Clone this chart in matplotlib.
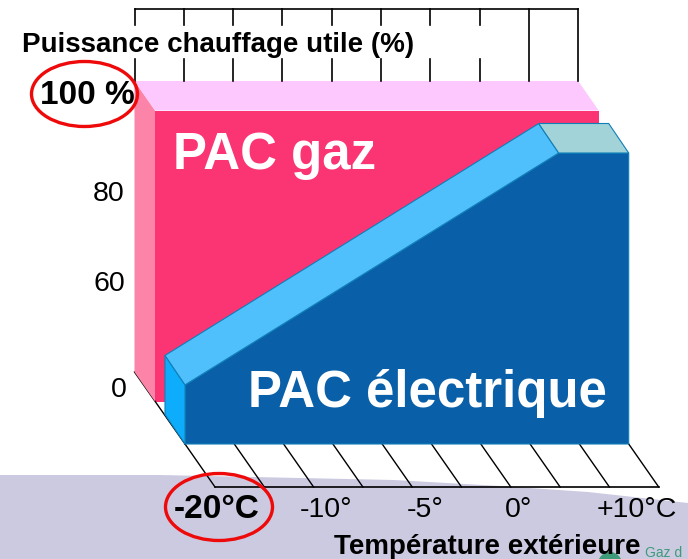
import matplotlib
matplotlib.use("Agg")
import matplotlib.pyplot as plt
from matplotlib.patches import Polygon, Ellipse
from matplotlib.transforms import Affine2D

# --- data ---
grid_idx = [0, 1, 2, 3, 4, 5, 6, 7, 8, 9]        # temperature grid positions
wall_idx = [0, 9]
wall_pct = [0, 100]
elec_idx = [0, 7.58, 9]                           # electric heat pump power curve
elec_pct = [20.3, 100, 100]
temp_labels = ["-20°C", "-10°", "-5°", "0°", "+10°C"]
temp_label_px = [217, 326, 425, 519, 637]
temp_label_bold = [True, False, False, False, False]
pct_labels = ["100 %", "80", "60", "0"]
pct_label_px = [(135, 96), (125, 194), (125, 284), (127, 390)]
pct_label_bold = [True, False, False, False]
title_y = "Puissance chauffage utile (%)"
title_x = "Température extérieure"
name_gas = "PAC gaz"
name_elec = "PAC électrique"
logo_text = "Gaz d"
bg_edge_x = [0, 160, 394, 500, 588, 688]
bg_edge_y = [475, 475, 480, 486, 492, 503]

W, H = 688, 559
DX, DY = 49.3, 2.91          # pixels per grid step / per percent
X0, Y0 = 185, 444            # front plane origin in pixels

plt.rcParams["font.family"] = ["Liberation Sans", "DejaVu Sans"]
fig = plt.figure(figsize=(W / 100, H / 100), dpi=100)
ax = fig.add_axes([0, 0, 1, 1])
ax.set_xlim(-X0 / DX, (W - X0) / DX)
ax.set_ylim((Y0 - H) / DY, Y0 / DY)
ax.axis("off")


def plane(dx, dy):
    """Depth offset in pixels applied on top of the data transform."""
    return ax.transData + Affine2D().translate(dx, dy)


px = Affine2D().scale(1, -1).translate(0, H)  # image pixel coordinates

FRONT = plane(0, 0)
ELEC_BACK = plane(-20, 29.5)
WALL_FRONT = plane(-30, 42.5)
WALL_BACK = plane(-50.5, 72)
FLOOR = plane(30, -43)

# background sweep
pts = list(zip(bg_edge_x, bg_edge_y)) + [(W, H), (0, H)]
ax.add_patch(Polygon(pts, closed=True, fc="#CBCAE1", ec="none", transform=px, zorder=0))

i0, i1 = wall_idx
p0, p1 = wall_pct
# wall
ax.fill([i0, i1, i1, i0], [p0, p0, p1, p1], color="#FB3574", lw=0, transform=WALL_FRONT, zorder=2)


def skew(a, ta, b, tb, fc, ec="none", z=3, lw=0.0):
    verts = [ta.transform(a[0]), ta.transform(a[1]), tb.transform(b[1]), tb.transform(b[0])]
    ax.add_patch(Polygon(verts, closed=True, fc=fc, ec=ec, lw=lw, transform=None, zorder=z))


skew([(i0, p0), (i0, p1)], WALL_BACK, [(i0, p0), (i0, p1)], WALL_FRONT, "#FB84A8")
skew([(i0, p1), (i1, p1)], WALL_BACK, [(i0, p1), (i1, p1)], WALL_FRONT, "#FDC8FD")

# grid: upper wall ticks, split around the title
top = 100 + 72 / DY
gap_lo, gap_hi = 107.6, 119.2
ax.plot([grid_idx[0], grid_idx[-1]], [top, top], color="black", lw=1.2, transform=WALL_BACK, zorder=4)
for i in grid_idx:
    if i <= 7:
        ax.plot([i, i], [100, gap_lo], color="black", lw=1.2, transform=WALL_BACK, zorder=4)
        ax.plot([i, i], [gap_hi, top], color="black", lw=1.2, transform=WALL_BACK, zorder=4)
    else:
        ax.plot([i, i], [100, top], color="black", lw=1.2, transform=WALL_BACK, zorder=4)

# floor grid
ax.plot([grid_idx[0], grid_idx[-1]], [0, 0], color="black", lw=1.2, transform=FLOOR, zorder=1)
for i in grid_idx:
    a = FRONT.transform((i, 0))
    b = FLOOR.transform((i, 0))
    ax.plot([a[0], b[0]], [a[1], b[1]], color="black", lw=1.0, transform=None, zorder=1)
a = WALL_BACK.transform((0, 0))
b = FRONT.transform((0, 0))
ax.plot([a[0], b[0]], [a[1], b[1]], color="black", lw=1.0, transform=None, zorder=2.5)

# electric block
EDGE = "#0F7FB8"
front_x = [elec_idx[0]] + elec_idx + [elec_idx[-1]]
front_y = [0] + elec_pct + [0]
ax.fill(front_x, front_y, fc="#0A60A8", ec=EDGE, lw=0.8, transform=FRONT, zorder=5)
skew([(elec_idx[0], 0), (elec_idx[0], elec_pct[0])], ELEC_BACK,
     [(elec_idx[0], 0), (elec_idx[0], elec_pct[0])], FRONT, "#0DADFB", EDGE, 5, 0.8)
skew([(elec_idx[0], elec_pct[0]), (elec_idx[1], elec_pct[1])], ELEC_BACK,
     [(elec_idx[0], elec_pct[0]), (elec_idx[1], elec_pct[1])], FRONT, "#4FC0FC", EDGE, 5, 0.8)
skew([(elec_idx[1], elec_pct[1]), (elec_idx[2], elec_pct[2])], ELEC_BACK,
     [(elec_idx[1], elec_pct[1]), (elec_idx[2], elec_pct[2])], FRONT, "#A2D3D8", EDGE, 5, 0.8)

# text
ax.text(218, 45, title_y, transform=px, ha="center", va="center", fontsize=20, fontweight="bold", color="black", zorder=6)
ax.text(487, 547, title_x, transform=px, ha="center", va="center", fontsize=20, fontweight="bold", color="black", zorder=6)
for s, (x, y), bold in zip(pct_labels, pct_label_px, pct_label_bold):
    ax.text(x, y, s, transform=px, ha="right", va="center", fontsize=24 if bold else 20.5,
            fontweight="bold" if bold else "normal", color="black", zorder=6)
for s, x, bold in zip(temp_labels, temp_label_px, temp_label_bold):
    ax.text(x, 510, s, transform=px, ha="center", va="center", fontsize=24 if bold else 20.5,
            fontweight="bold" if bold else "normal", color="black", zorder=6)
ax.text(173, 156, name_gas, transform=px, ha="left", va="center", fontsize=36.7, fontweight="bold", color="white", zorder=6)
ax.text(248, 393, name_elec, transform=px, ha="left", va="center", fontsize=36.7, fontweight="bold", color="white", zorder=6)

# highlight ellipses
for c, w, h in [((84.5, 94), 106, 65), ((219, 507), 107, 67)]:
    ax.add_patch(Ellipse(c, w, h, fc="none", ec="#EE0A0A", lw=2.4, transform=px, zorder=7))

# corner logo, cut by the image edge
ax.add_patch(Ellipse((610, 564), 24, 24, fc="#3E9B7A", ec="none", transform=px, zorder=1))
ax.text(645, 557, logo_text, transform=px, ha="left", va="baseline", fontsize=10, color="#3E9B7A", zorder=1)

fig.savefig("out.png", dpi=100)
